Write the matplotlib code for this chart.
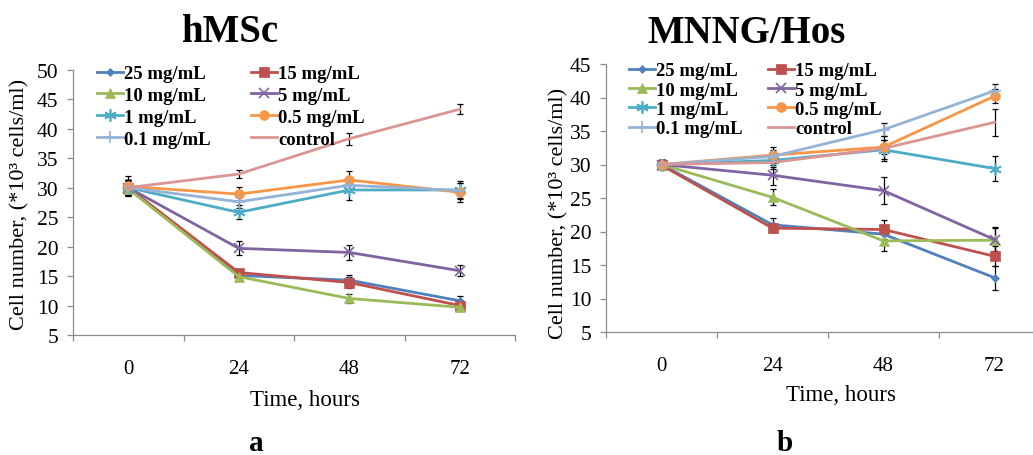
import matplotlib
matplotlib.use("Agg")
import matplotlib.pyplot as plt
from matplotlib.ticker import FixedLocator

W, H = 1033, 456
plt.rcParams['font.family'] = ['Liberation Serif', 'DejaVu Serif']

times = ["0", "24", "48", "72"]
series_labels = ["25 mg/mL", "15 mg/mL", "10 mg/mL", "5 mg/mL",
                 "1 mg/mL", "0.5 mg/mL", "0.1 mg/mL", "control"]

# hMSc
hmsc_vals = {
    "25 mg/mL": [30.0, 15.1, 14.3, 10.8],
    "15 mg/mL": [30.0, 15.6, 13.9, 10.0],
    "10 mg/mL": [29.8, 14.9, 11.2, 9.7],
    "5 mg/mL": [30.0, 19.7, 19.0, 15.9],
    "1 mg/mL": [30.0, 25.8, 29.6, 29.6],
    "0.5 mg/mL": [30.2, 28.9, 31.3, 29.2],
    "0.1 mg/mL": [30.0, 27.6, 30.4, 29.5],
    "control": [30.0, 32.3, 38.3, 43.3],
}
hmsc_err = {
    "25 mg/mL": [1.3, 0.7, 0.8, 0.8],
    "15 mg/mL": [1.2, 0.6, 1.0, 0.6],
    "10 mg/mL": [1.0, 0.6, 0.7, 0.5],
    "5 mg/mL": [1.3, 1.2, 1.3, 0.9],
    "1 mg/mL": [1.3, 1.2, 1.7, 1.5],
    "0.5 mg/mL": [1.7, 1.2, 1.5, 1.6],
    "0.1 mg/mL": [1.3, 1.0, 1.0, 1.3],
    "control": [1.3, 0.7, 1.0, 0.8],
}
# MNNG/Hos
mnng_vals = {
    "25 mg/mL": [30.0, 21.0, 19.6, 13.1],
    "15 mg/mL": [29.9, 20.5, 20.3, 16.3],
    "10 mg/mL": [30.0, 25.1, 18.6, 18.7],
    "5 mg/mL": [30.0, 28.4, 26.1, 18.8],
    "1 mg/mL": [30.0, 30.6, 32.2, 29.4],
    "0.5 mg/mL": [30.0, 31.4, 32.6, 40.2],
    "0.1 mg/mL": [30.0, 31.2, 35.2, 41.0],
    "control": [30.0, 30.3, 32.4, 36.3],
}
mnng_err = {
    "25 mg/mL": [0.7, 1.0, 1.0, 1.8],
    "15 mg/mL": [0.7, 0.6, 1.4, 1.5],
    "10 mg/mL": [0.7, 1.2, 1.5, 1.9],
    "5 mg/mL": [0.7, 1.5, 2.0, 1.7],
    "1 mg/mL": [0.7, 1.0, 1.4, 1.9],
    "0.5 mg/mL": [0.7, 1.2, 1.0, 1.0],
    "0.1 mg/mL": [0.7, 1.0, 1.0, 1.0],
    "control": [0.7, 1.0, 1.9, 2.0],
}

styles = {
    "25 mg/mL": dict(color="#4F81BD", marker="D", ms=4.5),
    "15 mg/mL": dict(color="#C0504D", marker="s", ms=7),
    "10 mg/mL": dict(color="#9BBB59", marker="^", ms=7),
    "5 mg/mL": dict(color="#8064A2", marker="x", ms=7),
    "1 mg/mL": dict(color="#4BACC6", marker=(6, 2, 0), ms=9),
    "0.5 mg/mL": dict(color="#F79646", marker="o", ms=7),
    "0.1 mg/mL": dict(color="#95B3D7", marker="+", ms=9),
    "control": dict(color="#D99694", marker=None, ms=0),
}

def px(x, y):
    return x / W, 1 - y / H

fig = plt.figure(figsize=(W / 100, H / 100), dpi=100)

def make_panel(rect_px, vals, errs, ylim, yticks, legend_anchor, colspacing, title,
               title_pos, xlabel_pos, ylabel_pos, letter_pos, labelspacing):
    l, t, r, b = rect_px
    ax = fig.add_axes([l / W, 1 - b / H, (r - l) / W, (b - t) / H])
    xs = list(range(len(times)))
    handles = {}
    for name in series_labels:
        st = styles[name]
        ax.errorbar(xs, vals[name], yerr=errs[name], fmt='none', ecolor='black',
                    elinewidth=0.9, capsize=2.3, capthick=0.9, zorder=2)
        mk = st["marker"]
        h, = ax.plot(xs, vals[name], color=st["color"], lw=2.0, marker=mk,
                     ms=st["ms"], mfc=st["color"], mec=st["color"],
                     mew=1.2 if mk in ("x", "+") or isinstance(mk, tuple) else 0.5,
                     label=name, zorder=3)
        handles[name] = h
    ax.set_xlim(-0.5, len(times) - 0.5)
    ax.set_ylim(*ylim)
    ax.set_yticks(yticks)
    ax.set_xticks(xs)
    ax.set_xticklabels(times)
    ax.xaxis.set_minor_locator(FixedLocator([i - 0.5 for i in range(len(times) + 1)]))
    for s in ("top", "right"):
        ax.spines[s].set_visible(False)
    for s in ("left", "bottom"):
        ax.spines[s].set_color("#8C8C8C")
        ax.spines[s].set_linewidth(0.9)
    ax.tick_params(axis='x', which='major', length=0, pad=17, labelsize=15)
    ax.tick_params(axis='x', which='minor', length=4.5, width=0.9, color="#8C8C8C", direction='out')
    ax.tick_params(axis='y', which='major', length=4.5, width=0.9, color="#8C8C8C",
                   pad=6, labelsize=15.5)
    # legend laid out row by row (two columns)
    order = series_labels[0::2] + series_labels[1::2]
    ax.legend([handles[n] for n in order], order, ncol=2, loc='upper left',
              bbox_to_anchor=px(*legend_anchor),
              bbox_transform=fig.transFigure, frameon=False,
              prop=dict(family='Liberation Serif', weight='bold', size=13.5),
              borderpad=0, borderaxespad=0, handlelength=1.4,
              handletextpad=0.05, columnspacing=colspacing, labelspacing=labelspacing)
    fig.text(*px(*title_pos), title, ha='center', va='baseline', fontsize=28,
             weight='bold')
    fig.text(*px(*xlabel_pos), "Time, hours", ha='center', va='baseline', fontsize=16.5)
    fig.text(*px(*ylabel_pos), "Cell number, (*10³ cells/ml)", ha='center',
             va='center', rotation=90, fontsize=16)
    fig.text(*px(*letter_pos[:2]), letter_pos[2], ha='center', va='baseline',
             fontsize=21, weight='bold')
    return ax

make_panel((73, 70.7, 515, 336), hmsc_vals, hmsc_err, (5, 50), range(5, 51, 5),
           (97, 66), 2.15, "hMSc", (230, 42), (305, 406), (20, 204), (256, 451, "a"), 0.25)
make_panel((606, 65, 1050, 333), mnng_vals, mnng_err, (5, 45), range(5, 46, 5),
           (629, 63), 1.35, "MNNG/Hos", (747, 43), (841, 401), (559, 213), (785, 451, "b"), 0.12)

fig.savefig("out.png", dpi=100)
